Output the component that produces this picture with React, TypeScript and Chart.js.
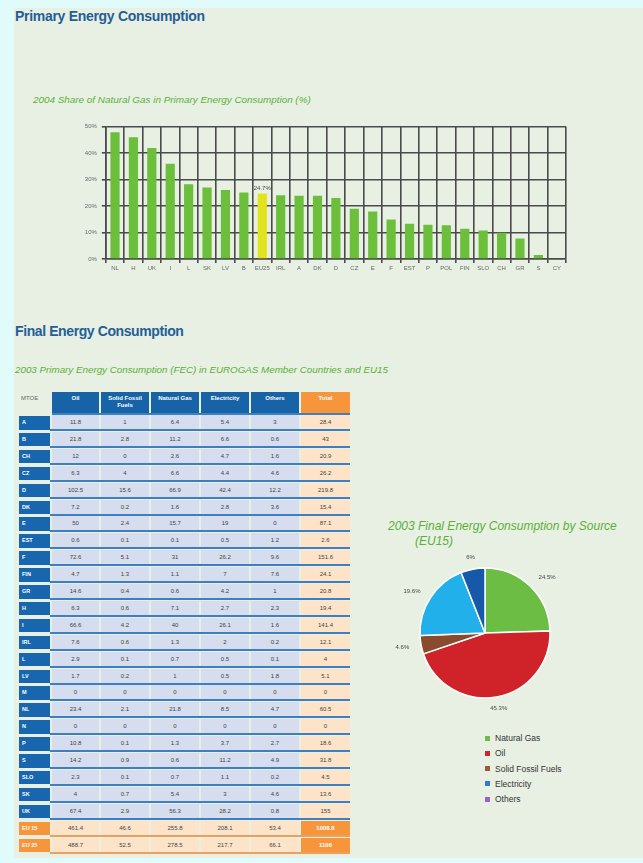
import React, { useEffect, useRef } from 'react';
import { Chart, registerables } from 'chart.js';
Chart.register(...registerables);

// ---------- Bar chart data ----------
const barLabels = ['NL', 'H', 'UK', 'I', 'L', 'SK', 'LV', 'B', 'EU25', 'IRL', 'A', 'DK', 'D', 'CZ', 'E', 'F', 'EST', 'P', 'POL', 'FIN', 'SLO', 'CH', 'GR', 'S', 'CY'];
const barValues = [47.9, 46.0, 41.9, 36.0, 28.2, 27.0, 26.1, 25.1, 24.7, 24.1, 23.9, 23.9, 23.0, 19.0, 17.9, 14.9, 13.3, 12.9, 12.7, 11.4, 10.8, 9.9, 7.7, 1.5, 0];
const highlightLabel = 'EU25';
const highlightText = '24.7%';
const yMax = 50;
const yStep = 10;

// ---------- Pie chart data ----------
const pieLabels = ['Natural Gas', 'Oil', 'Solid Fossil Fuels', 'Electricity', 'Others'];
const pieValues = [24.5, 45.3, 4.6, 19.6, 6.0];
const pieText = ['24.5%', '45.3%', '4.6%', '19.6%', '6%'];
const pieColors = ['#6bbd43', '#cf2329', '#8a4b2d', '#22b0ea', '#1659a8'];
const legendColors = ['#6bbd43', '#d9232a', '#9a5a3a', '#2f7bd4', '#9b63c9'];

// ---------- Table data ----------
const tableHeaders = ['Oil', 'Solid Fossil Fuels', 'Natural Gas', 'Electricity', 'Others', 'Total'];
const tableRows = ['A', 'B', 'CH', 'CZ', 'D', 'DK', 'E', 'EST', 'F', 'FIN', 'GR', 'H', 'I', 'IRL', 'L', 'LV', 'M', 'NL', 'N', 'P', 'S', 'SLO', 'SK', 'UK', 'EU 15', 'EU 25'];
const tableOil = [11.8, 21.8, 12, 6.3, 102.5, 7.2, 50, 0.6, 72.6, 4.7, 14.6, 6.3, 66.6, 7.6, 2.9, 1.7, 0, 23.4, 0, 10.8, 14.2, 2.3, 4, 67.4, 461.4, 488.7];
const tableSolid = [1, 2.8, 0, 4, 15.6, 0.2, 2.4, 0.1, 5.1, 1.3, 0.4, 0.6, 4.2, 0.6, 0.1, 0.2, 0, 2.1, 0, 0.1, 0.9, 0.1, 0.7, 2.9, 46.6, 52.5];
const tableGas = [6.4, 11.2, 2.6, 6.6, 66.9, 1.6, 15.7, 0.1, 31, 1.1, 0.6, 7.1, 40, 1.3, 0.7, 1, 0, 21.8, 0, 1.3, 0.6, 0.7, 5.4, 56.3, 255.8, 278.5];
const tableElec = [5.4, 6.6, 4.7, 4.4, 42.4, 2.8, 19, 0.5, 26.2, 7, 4.2, 2.7, 26.1, 2, 0.5, 0.5, 0, 8.5, 0, 3.7, 11.2, 1.1, 3, 28.2, 208.1, 217.7];
const tableOthers = [3, 0.6, 1.6, 4.6, 12.2, 3.6, 0, 1.2, 9.6, 7.6, 1, 2.3, 1.6, 0.2, 0.1, 1.8, 0, 4.7, 0, 2.7, 4.9, 0.2, 4.6, 0.8, 53.4, 66.1];
const tableTotal = [28.4, 43, 20.9, 26.2, 219.8, 15.4, 87.1, 2.6, 151.6, 24.1, 20.8, 19.4, 141.4, 12.1, 4, 5.1, 0, 60.5, 0, 18.6, 31.8, 4.5, 13.6, 155, 1008.8, 1106];

const FONT = "'Liberation Sans', Arial, sans-serif";
Chart.defaults.font.family = FONT;

const highlightPlugin = {
  id: 'highlightLabel',
  afterDatasetsDraw(chart: any) {
    const idx = barLabels.indexOf(highlightLabel);
    const el = chart.getDatasetMeta(0).data[idx];
    if (!el) return;
    const ctx = chart.ctx;
    ctx.save();
    ctx.font = `6px ${FONT}`;
    ctx.fillStyle = '#444';
    ctx.textAlign = 'center';
    ctx.textBaseline = 'bottom';
    ctx.fillText(highlightText, el.x, el.y - 2);
    ctx.restore();
  },
};

function BarChart() {
  const ref = useRef<HTMLCanvasElement>(null);
  useEffect(() => {
    const grid = { color: '#4a4a4a', lineWidth: 1.6, tickLength: 4 };
    const chart = new Chart(ref.current!, {
      type: 'bar',
      data: {
        labels: barLabels,
        datasets: [
          {
            data: barValues,
            backgroundColor: barLabels.map((l) => (l === highlightLabel ? '#e3e31d' : '#6bbf3b')),
            barPercentage: 0.5,
            categoryPercentage: 1,
          },
        ],
      },
      options: {
        responsive: false,
        animation: false,
        layout: { padding: { top: 7, right: 4, left: 0, bottom: 0 } },
        plugins: { legend: { display: false }, tooltip: { enabled: false } },
        scales: {
          x: {
            grid: { ...grid, offset: true },
            border: { color: '#4a4a4a', width: 1.6 },
            ticks: { font: { size: 6 }, color: '#666', maxRotation: 0, autoSkip: false, padding: 2 },
            afterFit: (s: any) => {
              s.height = 19;
            },
          },
          y: {
            min: 0,
            max: yMax,
            ticks: { stepSize: yStep, callback: (v: any) => v + '%', font: { size: 6 }, color: '#666', padding: 5 },
            grid,
            border: { color: '#4a4a4a', width: 1.6 },
            afterFit: (s: any) => {
              s.width = 45.8;
            },
          },
        },
      },
      plugins: [highlightPlugin],
    } as any);
    return () => chart.destroy();
  }, []);
  return <canvas ref={ref} width={510} height={160} style={{ position: 'absolute', left: 60, top: 118 }} />;
}

const pieLabelPlugin = {
  id: 'pieLabels',
  afterDatasetsDraw(chart: any) {
    const ctx = chart.ctx;
    const meta = chart.getDatasetMeta(0);
    ctx.save();
    ctx.font = `6px ${FONT}`;
    ctx.fillStyle = '#444';
    ctx.textBaseline = 'middle';
    meta.data.forEach((arc: any, i: number) => {
      const mid = (arc.startAngle + arc.endAngle) / 2;
      const r = arc.outerRadius + 12;
      const c = Math.cos(mid);
      const x = arc.x + c * r;
      const y = arc.y + Math.sin(mid) * r;
      ctx.textAlign = Math.abs(c) < 0.3 ? 'center' : c > 0 ? 'left' : 'right';
      ctx.fillText(pieText[i], x, y);
    });
    ctx.restore();
  },
};

function PieChart() {
  const ref = useRef<HTMLCanvasElement>(null);
  useEffect(() => {
    const chart = new Chart(ref.current!, {
      type: 'pie',
      data: {
        labels: pieLabels,
        datasets: [{ data: pieValues, backgroundColor: pieColors, borderColor: '#ffffff', borderWidth: 1.5 }],
      },
      options: {
        responsive: false,
        animation: false,
        radius: 65,
        layout: { padding: 0 },
        plugins: { legend: { display: false }, tooltip: { enabled: false } },
      },
      plugins: [pieLabelPlugin],
    } as any);
    return () => chart.destroy();
  }, []);
  return <canvas ref={ref} width={200} height={160} style={{ position: 'absolute', left: 385, top: 553 }} />;
}

const colX = [52, 101, 151, 201, 251, 301];
const colW = [47, 48, 48, 48, 48, 49];

function Table() {
  const cols = [tableOil, tableSolid, tableGas, tableElec, tableOthers, tableTotal];
  const items: any[] = [];
  items.push(
    <div key="mtoe" style={{ position: 'absolute', left: 21, top: 395, fontSize: 6, color: '#666', lineHeight: 1 }}>
      MTOE
    </div>
  );
  tableHeaders.forEach((h, j) => {
    items.push(
      <div
        key={'h' + j}
        style={{
          position: 'absolute',
          left: colX[j],
          top: 392,
          width: colW[j],
          height: 21,
          background: j === 5 ? '#f7953b' : '#1763a8',
          color: '#fff',
          fontSize: 6,
          fontWeight: 'bold',
          textAlign: 'center',
          lineHeight: '7px',
          paddingTop: 3,
          boxSizing: 'border-box',
        }}
      >
        {h}
      </div>
    );
  });
  items.push(<div key="hline" style={{ position: 'absolute', left: 52, top: 413, width: 298, height: 1.5, background: '#3d7fc1' }} />);
  const rowH = 16.9;
  tableRows.forEach((name, i) => {
    const top = 415 + i * rowH;
    const eu = i >= 24;
    items.push(
      <div
        key={'l' + i}
        style={{
          position: 'absolute',
          left: 19,
          top: top + 1,
          width: 31,
          height: 13.5,
          background: eu ? '#f7953b' : '#1866ad',
          color: '#fff',
          fontSize: 5.5,
          fontWeight: 'bold',
          lineHeight: '13.5px',
          paddingLeft: 3,
          boxSizing: 'border-box',
        }}
      >
        {name}
      </div>
    );
    cols.forEach((col, j) => {
      const totalEu = eu && j === 5;
      items.push(
        <div
          key={'c' + i + '_' + j}
          style={{
            position: 'absolute',
            left: colX[j],
            top: top,
            width: colW[j],
            height: 14,
            background: totalEu ? '#f7953b' : j === 5 || eu ? '#fde3c8' : '#d5ddee',
            color: totalEu ? '#fff' : '#444',
            fontWeight: totalEu ? 'bold' : 'normal',
            fontSize: 6,
            lineHeight: '14px',
            textAlign: 'center',
          }}
        >
          {String(col[i])}
        </div>
      );
    });
    items.push(
      <div key={'b' + i} style={{ position: 'absolute', left: 50, top: top + 14, width: 300, height: 2, background: eu ? '#e9a060' : '#3d7fc1' }} />
    );
  });
  return <>{items}</>;
}

function Legend() {
  return (
    <>
      {pieLabels.map((l, i) => (
        <div key={l} style={{ position: 'absolute', left: 485, top: 734 + i * 15.3, height: 8, display: 'flex', alignItems: 'center' }}>
          <div style={{ width: 5, height: 5, background: legendColors[i], marginRight: 5 }} />
          <span style={{ fontSize: 8.5, color: '#333', lineHeight: '8px' }}>{l}</span>
        </div>
      ))}
    </>
  );
}

export default function App() {
  return (
    <div style={{ position: 'absolute', left: 0, top: 0, width: 643, height: 863, background: '#e1fbfb', overflow: 'hidden', fontFamily: FONT }}>
      <div style={{ position: 'absolute', left: 14, top: 8, width: 629, height: 850, background: '#e8f0e4' }} />
      <div style={{ position: 'absolute', left: 15, top: 9, fontSize: 14, fontWeight: 'bold', color: '#245e97', lineHeight: 1, letterSpacing: -0.3 }}>
        Primary Energy Consumption
      </div>
      <div style={{ position: 'absolute', left: 33, top: 95, fontSize: 9.9, fontStyle: 'italic', color: '#58b134', lineHeight: 1 }}>
        2004 Share of Natural Gas in Primary Energy Consumption (%)
      </div>
      <BarChart />
      <div style={{ position: 'absolute', left: 15, top: 324, fontSize: 14, fontWeight: 'bold', color: '#245e97', lineHeight: 1, letterSpacing: -0.4 }}>
        Final Energy Consumption
      </div>
      <div style={{ position: 'absolute', left: 15, top: 365, fontSize: 9.8, fontStyle: 'italic', color: '#58b134', lineHeight: 1 }}>
        2003 Primary Energy Consumption (FEC) in EUROGAS Member Countries and EU15
      </div>
      <Table />
      <div style={{ position: 'absolute', left: 388, top: 520, fontSize: 12, fontStyle: 'italic', color: '#58b134', lineHeight: 1 }}>
        2003 Final Energy Consumption by Source
      </div>
      <div style={{ position: 'absolute', left: 415, top: 535, fontSize: 12, fontStyle: 'italic', color: '#58b134', lineHeight: 1 }}>
        (EU15)
      </div>
      <PieChart />
      <Legend />
    </div>
  );
}
